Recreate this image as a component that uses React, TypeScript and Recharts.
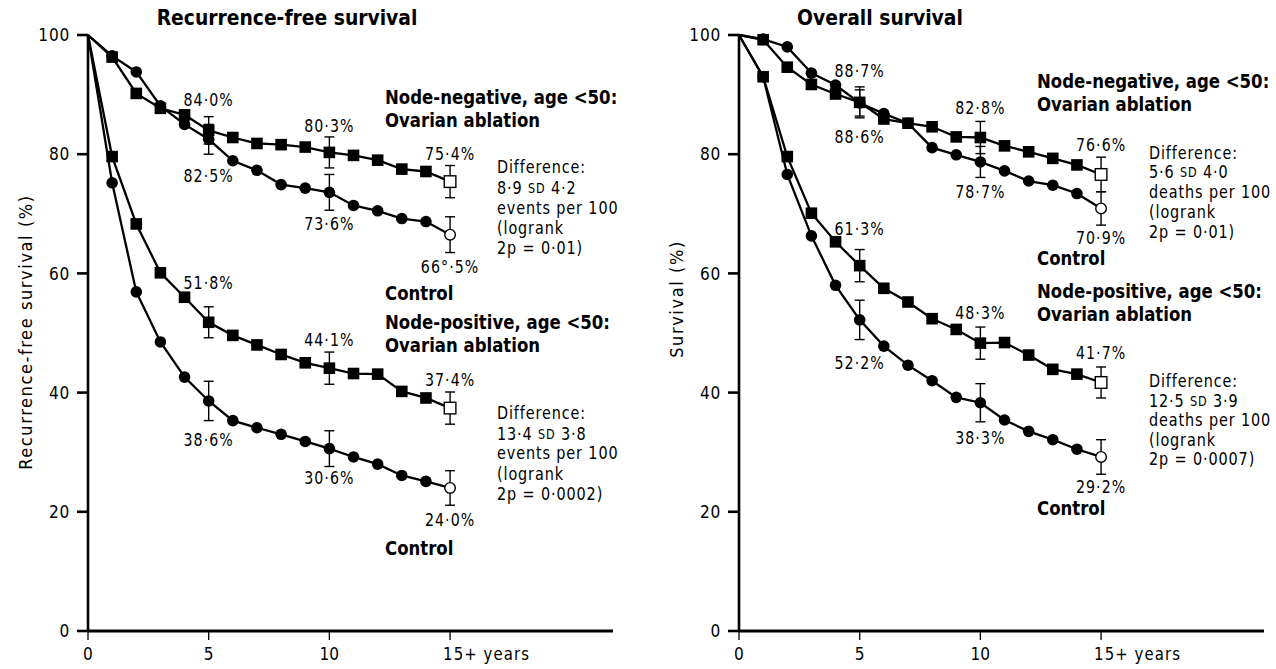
import React from 'react';
import { LineChart, Line, XAxis, YAxis, ErrorBar, LabelList } from 'recharts';

// ---------------- data ----------------
const years = [0, 1, 2, 3, 4, 5, 6, 7, 8, 9, 10, 11, 12, 13, 14, 15];
const markedYears = [5, 10, 15];
const xTicks = [0, 5, 10, 15];
const yTicks = [0, 20, 40, 60, 80, 100];

// Recurrence-free survival (%)
const rfsNodeNegAblation = [100, 96.3, 90.2, 87.7, 86.6, 84.0, 82.8, 81.8, 81.6, 81.2, 80.3, 79.8, 79.0, 77.5, 77.1, 75.4];
const rfsNodeNegControl = [100, 96.5, 93.8, 88.1, 85.0, 82.5, 78.9, 77.3, 74.9, 74.3, 73.6, 71.4, 70.5, 69.2, 68.7, 66.5];
const rfsNodePosAblation = [100, 79.6, 68.3, 60.1, 56.0, 51.8, 49.6, 48.0, 46.4, 45.0, 44.1, 43.2, 43.1, 40.2, 39.1, 37.4];
const rfsNodePosControl = [100, 75.2, 56.9, 48.5, 42.6, 38.6, 35.3, 34.1, 33.0, 31.8, 30.6, 29.2, 28.0, 26.1, 25.1, 24.0];

const rfsNodeNegAblationErr = [2.3, 2.6, 2.7];
const rfsNodeNegControlErr = [2.5, 3.0, 3.0];
const rfsNodePosAblationErr = [2.6, 2.7, 2.7];
const rfsNodePosControlErr = [3.3, 3.0, 2.9];

const rfsNodeNegAblationLbl = ['84·0%', '80·3%', '75·4%'];
const rfsNodeNegControlLbl = ['82·5%', '73·6%', '66°·5%'];
const rfsNodePosAblationLbl = ['51·8%', '44·1%', '37·4%'];
const rfsNodePosControlLbl = ['38·6%', '30·6%', '24·0%'];

// Overall survival (%)
const osNodeNegAblation = [100, 99.2, 94.6, 91.7, 90.1, 88.7, 85.9, 85.2, 84.6, 82.9, 82.8, 81.4, 80.4, 79.3, 78.2, 76.6];
const osNodeNegControl = [100, 99.3, 98.0, 93.6, 91.6, 88.6, 86.8, 85.2, 81.1, 79.9, 78.7, 77.2, 75.5, 74.8, 73.4, 70.9];
const osNodePosAblation = [100, 93.0, 79.6, 70.1, 65.3, 61.3, 57.5, 55.2, 52.4, 50.6, 48.3, 48.4, 46.3, 43.9, 43.1, 41.7];
const osNodePosControl = [100, 93.0, 76.6, 66.3, 58.0, 52.2, 47.8, 44.6, 42.0, 39.2, 38.3, 35.4, 33.5, 32.1, 30.5, 29.2];

const osNodeNegAblationErr = [2.6, 2.7, 2.9];
const osNodeNegControlErr = [2.2, 2.6, 2.8];
const osNodePosAblationErr = [2.7, 2.7, 2.6];
const osNodePosControlErr = [3.3, 3.2, 2.9];

const osNodeNegAblationLbl = ['88·7%', '82·8%', '76·6%'];
const osNodeNegControlLbl = ['88·6%', '78·7%', '70·9%'];
const osNodePosAblationLbl = ['61·3%', '48·3%', '41·7%'];
const osNodePosControlLbl = ['52·2%', '38·3%', '29·2%'];

// ---------------- styles ----------------
const FONT = '"DejaVu Sans Condensed", "DejaVu Sans", sans-serif';
const LAST = years.length - 1;

// label offsets (px from point centre) for the three marked years
const rfsOffsets = {
  nnA: [-30, -26, -27],
  nnC: [37, 32, 33],
  npA: [-39, -28, -28],
  npC: [39, 30, 32],
};
const osOffsets = {
  nnA: [-31, -29, -29],
  nnC: [34, 30, 30],
  npA: [-36, -30, -29],
  npC: [43, 35, 30],
};

type Row = Record<string, number | string | null>;

function buildRows(
  s: { nnA: number[]; nnC: number[]; npA: number[]; npC: number[] },
  e: { nnA: number[]; nnC: number[]; npA: number[]; npC: number[] },
  l: { nnA: string[]; nnC: string[]; npA: string[]; npC: string[] }
): Row[] {
  return years.map((yr, i) => {
    const k = markedYears.indexOf(yr);
    const row: Row = { year: yr };
    (['nnA', 'nnC', 'npA', 'npC'] as const).forEach((key) => {
      row[key] = s[key][i];
      row[key + 'Err'] = k >= 0 ? e[key][k] : null;
      row[key + 'Lbl'] = k >= 0 ? l[key][k] : null;
    });
    return row;
  });
}

const rfsRows = buildRows(
  { nnA: rfsNodeNegAblation, nnC: rfsNodeNegControl, npA: rfsNodePosAblation, npC: rfsNodePosControl },
  { nnA: rfsNodeNegAblationErr, nnC: rfsNodeNegControlErr, npA: rfsNodePosAblationErr, npC: rfsNodePosControlErr },
  { nnA: rfsNodeNegAblationLbl, nnC: rfsNodeNegControlLbl, npA: rfsNodePosAblationLbl, npC: rfsNodePosControlLbl }
);
const osRows = buildRows(
  { nnA: osNodeNegAblation, nnC: osNodeNegControl, npA: osNodePosAblation, npC: osNodePosControl },
  { nnA: osNodeNegAblationErr, nnC: osNodeNegControlErr, npA: osNodePosAblationErr, npC: osNodePosControlErr },
  { nnA: osNodeNegAblationLbl, nnC: osNodeNegControlLbl, npA: osNodePosAblationLbl, npC: osNodePosControlLbl }
);

// horizontally condensed text (reference uses a condensed face)
function CText({ x, y, sx = 0.9, anchor = 'start', style, children }: any) {
  return (
    <text
      transform={`translate(${x},${y}) scale(${sx},1)`}
      x={0}
      y={0}
      textAnchor={anchor}
      dominantBaseline="central"
      {...style}
    >
      {children}
    </text>
  );
}

const squareDot = (p: any) => {
  const { cx, cy, index } = p;
  if (index === 0 || cx == null || cy == null) return <g key={`s-${index}`} />;
  const open = index === LAST;
  return (
    <rect
      key={`s-${index}`}
      x={cx - 5.8}
      y={cy - 5.8}
      width={11.6}
      height={11.6}
      fill={open ? '#fff' : '#000'}
      stroke="#000"
      strokeWidth={open ? 1.4 : 0}
    />
  );
};

const circleDot = (p: any) => {
  const { cx, cy, index } = p;
  if (index === 0 || cx == null || cy == null) return <g key={`c-${index}`} />;
  const open = index === LAST;
  return (
    <circle
      key={`c-${index}`}
      cx={cx}
      cy={cy}
      r={open ? 5.3 : 5.8}
      fill={open ? '#fff' : '#000'}
      stroke="#000"
      strokeWidth={open ? 1.4 : 0}
    />
  );
};

const labelStyle = { fontFamily: FONT, fontSize: 17.5, letterSpacing: 1.2, fill: '#000' };

const makeLabel = (offsets: number[]) => (p: any) => {
  const { x, y, value, index } = p;
  if (value == null || value === '') return null;
  const k = markedYears.indexOf(years[index]);
  const dy = k >= 0 ? offsets[k] : 0;
  return (
    <CText x={x} y={y + dy} sx={0.9} anchor="middle" style={labelStyle}>
      {value}
    </CText>
  );
};

const tickStyle = { fontFamily: FONT, fontSize: 18, fill: '#000' };

const XTick = (p: any) => {
  const { x, y, payload } = p;
  if (payload.value === 15) {
    return (
      <CText x={x - 7} y={y + 14} sx={0.92} anchor="start" style={{ ...tickStyle, letterSpacing: 1.2 }}>
        15+ years
      </CText>
    );
  }
  return (
    <CText x={x} y={y + 14} sx={0.95} anchor="middle" style={tickStyle}>
      {payload.value}
    </CText>
  );
};

const YTick = (p: any) => {
  const { x, y, payload } = p;
  return (
    <CText x={x} y={y} sx={0.95} anchor="end" style={{ ...tickStyle, letterSpacing: 0.8 }}>
      {payload.value}
    </CText>
  );
};

function Panel({ rows, offsets, width, height, margin }: any) {
  const series = [
    { key: 'nnA', dot: squareDot },
    { key: 'nnC', dot: circleDot },
    { key: 'npA', dot: squareDot },
    { key: 'npC', dot: circleDot },
  ];
  return (
    <LineChart width={width} height={height} data={rows} margin={margin}>
      <XAxis
        dataKey="year"
        type="number"
        domain={[0, 21.75]}
        ticks={xTicks}
        allowDataOverflow
        axisLine={{ stroke: '#000', strokeWidth: 3 }}
        tickLine={{ stroke: '#000', strokeWidth: 1.3 }}
        tickSize={9}
        tickMargin={0}
        height={38}
        tick={<XTick />}
        interval={0}
      />
      <YAxis
        type="number"
        domain={[0, 100]}
        ticks={yTicks}
        axisLine={{ stroke: '#000', strokeWidth: 2.6 }}
        tickLine={{ stroke: '#000', strokeWidth: 2.6 }}
        tickSize={11}
        tickMargin={7}
        width={40}
        tick={<YTick />}
        interval={0}
      />
      {series.map((s) => (
        <Line
          key={s.key}
          type="linear"
          dataKey={s.key}
          stroke="#000"
          strokeWidth={2.3}
          dot={s.dot}
          activeDot={false}
          isAnimationActive={false}
        >
          <ErrorBar dataKey={s.key + 'Err'} width={5} stroke="#000" strokeWidth={1.4} direction="y" />
          <LabelList dataKey={s.key + 'Lbl'} content={makeLabel(offsets[s.key])} />
        </Line>
      ))}
    </LineChart>
  );
}

const bold = { fontFamily: FONT, fontSize: 20, fontWeight: 700, fill: '#000' } as const;
const norm = { fontFamily: FONT, fontSize: 18, fill: '#000', letterSpacing: 1 } as const;

function TextLines({ x, ys, lines, style, sx }: { x: number; ys: number[]; lines: React.ReactNode[]; style: any; sx: number }) {
  return (
    <g>
      {lines.map((ln, i) => (
        <CText key={i} x={x} y={ys[i]} sx={sx} style={style}>
          {ln}
        </CText>
      ))}
    </g>
  );
}

const sd = (a: string, b: string) => (
  <>
    {a} <tspan fontSize={14}>SD</tspan> {b}
  </>
);

export default function App() {
  return (
    <div style={{ position: 'absolute', left: 0, top: 0, width: 1276, height: 669, background: '#fff', overflow: 'hidden' }}>
      <div style={{ position: 'absolute', left: 0, top: 0 }}>
        <Panel rows={rfsRows} offsets={rfsOffsets} width={640} height={669} margin={{ top: 35, right: 27, bottom: 0, left: 48 }} />
      </div>
      <div style={{ position: 'absolute', left: 640, top: 0 }}>
        <Panel rows={osRows} offsets={osOffsets} width={636} height={669} margin={{ top: 35, right: 12, bottom: 0, left: 59 }} />
      </div>
      <svg width={1276} height={669} style={{ position: 'absolute', left: 0, top: 0, pointerEvents: 'none' }}>
        {/* titles */}
        <CText x={287} y={17} sx={0.97} anchor="middle" style={{ ...bold, fontSize: 21.5 }}>Recurrence-free survival</CText>
        <CText x={880} y={17} sx={0.97} anchor="middle" style={{ ...bold, fontSize: 21.5 }}>Overall survival</CText>
        {/* axis titles */}
        <text transform="translate(25,332) rotate(-90)" textAnchor="middle" dominantBaseline="central" {...norm} letterSpacing={1.6}>Recurrence-free survival (%)</text>
        <text transform="translate(676,299) rotate(-90)" textAnchor="middle" dominantBaseline="central" {...norm} letterSpacing={1.6}>Survival (%)</text>

        {/* left panel annotations */}
        <TextLines x={385} ys={[97, 120]} sx={0.92} lines={['Node-negative, age <50:', 'Ovarian ablation']} style={bold} />
        <TextLines x={385} ys={[293]} sx={0.92} lines={['Control']} style={bold} />
        <TextLines x={385} ys={[322, 345]} sx={0.92} lines={['Node-positive, age <50:', 'Ovarian ablation']} style={bold} />
        <TextLines x={385} ys={[548]} sx={0.92} lines={['Control']} style={bold} />
        <TextLines
          x={497}
          ys={[167, 188, 208, 228, 248]}
          sx={0.89}
          lines={['Difference:', sd('8·9', '4·2'), 'events per 100', '(logrank', '2p = 0·01)']}
          style={norm}
        />
        <TextLines
          x={497}
          ys={[413, 434, 453, 474, 494]}
          sx={0.89}
          lines={['Difference:', sd('13·4', '3·8'), 'events per 100', '(logrank', '2p = 0·0002)']}
          style={norm}
        />

        {/* right panel annotations */}
        <TextLines x={1037} ys={[81, 104]} sx={0.92} lines={['Node-negative, age <50:', 'Ovarian ablation']} style={bold} />
        <TextLines x={1037} ys={[258]} sx={0.92} lines={['Control']} style={bold} />
        <TextLines x={1037} ys={[291, 314]} sx={0.92} lines={['Node-positive, age <50:', 'Ovarian ablation']} style={bold} />
        <TextLines x={1037} ys={[508]} sx={0.92} lines={['Control']} style={bold} />
        <TextLines
          x={1149}
          ys={[153, 172, 192, 212, 232]}
          sx={0.89}
          lines={['Difference:', sd('5·6', '4·0'), 'deaths per 100', '(logrank', '2p = 0·01)']}
          style={norm}
        />
        <TextLines
          x={1149}
          ys={[381, 401, 420, 440, 459]}
          sx={0.89}
          lines={['Difference:', sd('12·5', '3·9'), 'deaths per 100', '(logrank', '2p = 0·0007)']}
          style={norm}
        />
      </svg>
    </div>
  );
}
